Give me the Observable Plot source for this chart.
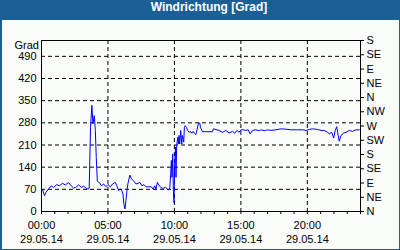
<!DOCTYPE html>
<html>
<head>
<meta charset="utf-8">
<script src="https://cdn.jsdelivr.net/npm/d3@7"></script>
<script src="https://cdn.jsdelivr.net/npm/@observablehq/plot@0.6"></script>
<style>
  html, body { margin: 0; padding: 0; background: #1c5f94; }
  #frame { position: relative; width: 400px; height: 250px; background: #1c5f94; overflow: hidden; }
  #title { height: 20px; line-height: 20px; color: #ffffff; font: bold 12px "Liberation Sans", Arial, sans-serif; text-align: center; padding-left: 18px; box-sizing: border-box; }
  #panel { position: absolute; left: 2px; top: 20px; width: 397px; height: 229px; background: #f9fcf9; }
</style>
</head>
<body>
<div id="frame">
  <div id="title">Windrichtung [Grad]</div>
  <div id="panel"></div>
</div>
<script>
// time of day in hours (29.05.14)
const hours = [0.00,0.08,0.23,0.32,0.53,0.73,0.90,1.15,1.33,1.58,1.79,2.03,2.24,2.41,2.58,2.79,2.99,3.17,3.34,3.49,3.59,3.62,3.69,3.79,3.87,3.97,4.05,4.12,4.20,4.30,4.39,4.50,4.67,4.85,5.00,5.18,5.35,5.55,5.67,5.80,5.93,6.05,6.13,6.20,6.28,6.35,6.43,6.50,6.58,6.65,6.76,6.93,7.11,7.26,7.41,7.56,7.71,7.86,8.06,8.27,8.39,8.52,8.61,8.72,8.82,8.97,9.14,9.34,9.55,9.65,9.72,9.77,9.82,9.87,9.92,9.97,10.02,10.08,10.12,10.17,10.25,10.30,10.35,10.40,10.47,10.55,10.60,10.70,10.75,10.80,10.90,11.00,11.10,11.21,11.30,11.40,11.51,11.61,11.70,11.81,11.91,11.96,12.11,12.43,12.86,12.94,13.36,13.62,13.87,14.11,14.37,14.54,14.70,14.87,15.00,15.20,15.37,15.55,15.70,15.88,16.13,16.38,16.50,16.75,17.01,17.26,17.63,18.01,18.39,18.76,19.27,19.65,19.90,20.14,20.40,20.78,21.03,21.27,21.53,21.65,21.83,21.98,22.10,22.21,22.28,22.40,22.53,22.74,22.91,23.16,23.41,23.66,23.91];
// wind direction in degrees
const degrees = [71,69,50,60,71,81,76,85,81,89,84,91,81,74,76,84,76,80,74,71,73,134,266,335,277,303,256,171,97,92,90,81,87,78,85,78,87,92,81,66,71,66,55,23,8,34,66,87,103,115,103,97,87,89,92,81,85,78,78,78,71,81,71,92,84,76,73,76,68,74,118,161,108,182,66,28,150,203,108,208,234,213,240,213,256,213,240,219,266,271,266,256,250,253,247,253,247,243,258,279,279,266,252,252,252,261,256,250,256,248,253,247,256,250,258,258,256,258,245,256,258,255,258,255,258,256,258,261,260,258,258,258,256,259,261,259,256,256,250,245,250,232,256,268,250,222,240,248,250,256,253,258,258];

const leftTicks = [0,70,140,210,280,350,420,490];
const gridValues = [70,140,210,280,350,420,490];
const compassValues = [0,45,90,135,180,225,270,315,360,405,450,495,540];
const compassLabels = ["N","NE","E","SE","S","SW","W","NW","N","NE","E","SE","S"];
const hourTicks = d3.range(0, 25);
const labelHours = [0,5,10,15,20];
const timeLabels = ["00:00","05:00","10:00","15:00","20:00"];
const dateLabel = "29.05.14";
const unitLabel = "Grad";

const data = hours.map((h, i) => ({h, v: degrees[i]}));

const chart = Plot.plot({
  width: 397,
  height: 229,
  marginLeft: 39,
  marginRight: 39,
  marginTop: 20,
  marginBottom: 38,
  style: {fontSize: "11px", fontFamily: "'Liberation Sans', Arial, sans-serif", background: "transparent", color: "black", overflow: "visible"},
  x: {domain: [0, 24]},
  y: {domain: [0, 540]},
  marks: [
    Plot.ruleY(gridValues, {stroke: "black", strokeDasharray: "4,3"}),
    Plot.ruleX(labelHours.slice(1), {stroke: "black", strokeDasharray: "4,3"}),
    Plot.frame({stroke: "black"}),
    Plot.line(data, {x: "h", y: "v", stroke: "#0000ff", strokeWidth: 1}),
    Plot.axisY(leftTicks, {anchor: "left", tickSize: 0, tickPadding: 5, label: null}),
    Plot.axisY(compassValues, {anchor: "right", tickSize: 3, tickPadding: 3, label: null,
      tickFormat: d => compassLabels[compassValues.indexOf(d)]}),
    Plot.axisX(hourTicks, {anchor: "bottom", tickSize: 3, tickPadding: 5, label: null, lineHeight: 1.27,
      tickFormat: d => { const k = labelHours.indexOf(d); return k >= 0 ? timeLabels[k] + "\n" + dateLabel : ""; }}),
    Plot.text([unitLabel], {frameAnchor: "top-left", dx: -27, dy: 1, textAnchor: "start", fill: "black"})
  ]
});
document.getElementById("panel").appendChild(chart);
</script>
</body>
</html>
